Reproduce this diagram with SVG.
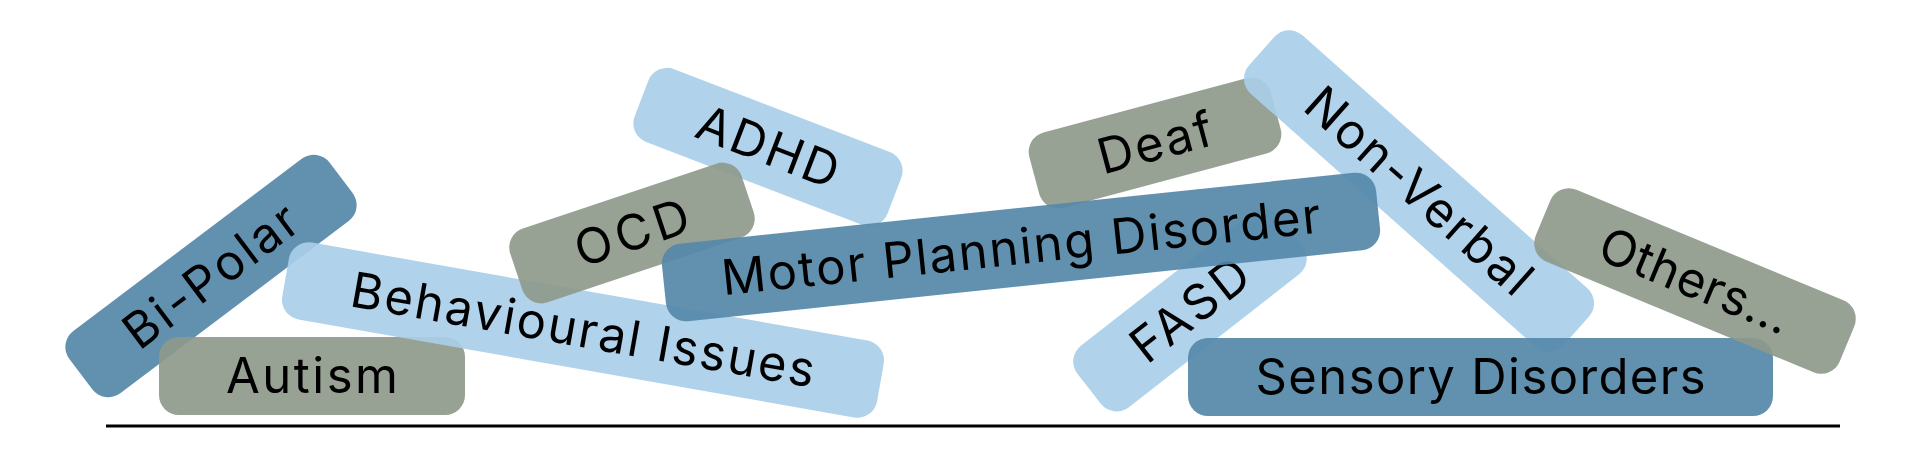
<svg xmlns="http://www.w3.org/2000/svg" width="1920" height="451" viewBox="0 0 1920 451">
<style>
.dk{fill:#5588a9;fill-opacity:0.92}
.lt{fill:#a9cee8;fill-opacity:0.92}
.gr{fill:#8e998b;fill-opacity:0.92}
text{font-family:Inter,"Liberation Sans",sans-serif;font-size:49px;fill:#000;text-anchor:middle}
</style>
<rect width="1920" height="451" fill="#fff"/>
<g id="bipolar" transform="translate(211 276) rotate(-37)">
<rect class="dk" x="-163" y="-39" width="326" height="78" rx="20"/>
<text x="0" y="17" textLength="205">Bi-Polar</text>
</g>
<g id="autism" transform="translate(312 376)">
<rect class="gr" x="-153" y="-39" width="306" height="78" rx="20"/>
<text x="0" y="17" textLength="172">Autism</text>
</g>
<g id="behavioural" transform="translate(583 330) rotate(10)">
<rect class="lt" x="-302" y="-39" width="604" height="78" rx="20"/>
<text x="0" y="17" textLength="470">Behavioural Issues</text>
</g>
<g id="adhd" transform="translate(768 147) rotate(21)">
<rect class="lt" x="-135.5" y="-39" width="271" height="78" rx="20"/>
<text x="0" y="17" textLength="148">ADHD</text>
</g>
<g id="ocd" transform="translate(632 233) rotate(-18.5)">
<rect class="gr" x="-122" y="-39" width="244" height="78" rx="20"/>
<text x="0" y="17" textLength="118">OCD</text>
</g>
<g id="deaf" transform="translate(1155 143) rotate(-15)">
<rect class="gr" x="-125" y="-39" width="250" height="78" rx="20"/>
<text x="0" y="17" textLength="117">Deaf</text>
</g>
<g id="nonverbal" transform="translate(1419 191) rotate(41.6)">
<rect class="lt" x="-210.5" y="-39" width="421" height="78" rx="20"/>
<text x="0" y="17" textLength="285">Non-Verbal</text>
</g>
<g id="fasd" transform="translate(1190 310) rotate(-38)">
<rect class="lt" x="-128" y="-39" width="256" height="78" rx="20"/>
<text x="0" y="17" textLength="136">FASD</text>
</g>
<g id="motor" transform="translate(1021 247) rotate(-6)">
<rect class="dk" x="-359" y="-39" width="718" height="78" rx="20"/>
<text x="0" y="17" textLength="602">Motor Planning Disorder</text>
</g>
<g id="sensory" transform="translate(1480.5 377)">
<rect class="dk" x="-292.5" y="-39" width="585" height="78" rx="20"/>
<text x="0" y="17" textLength="450">Sensory Disorders</text>
</g>
<g id="others" transform="translate(1695 281) rotate(22.5)">
<rect class="gr" x="-164.5" y="-39" width="329" height="78" rx="20"/>
<text x="0" y="17" textLength="202">Others...</text>
</g>
<g id="connectors">
<line x1="106" y1="426" x2="1840" y2="426" stroke="#000" stroke-width="3"/>
</g>
</svg>
